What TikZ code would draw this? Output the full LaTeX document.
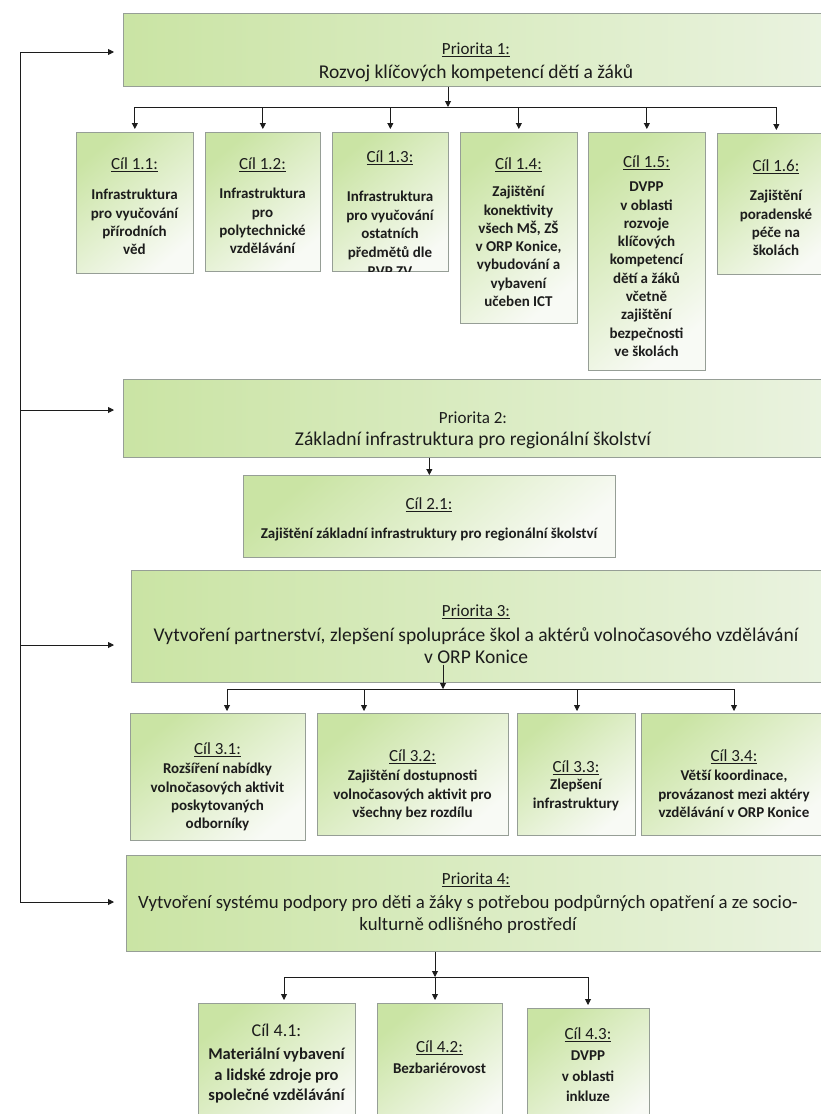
\documentclass[tikz,border=0pt]{standalone}
\usepackage{fontspec}
\setmainfont{Carlito}
\usetikzlibrary{arrows.meta}
\definecolor{gA}{RGB}{202,228,164}
\definecolor{gB}{RGB}{234,243,224}
\definecolor{gC}{RGB}{248,250,245}
\definecolor{bord}{RGB}{150,158,150}
\definecolor{ink}{RGB}{28,28,28}
\newcommand{\fs}{\rule{0pt}{12pt}}
\tikzset{
  pbox/.style={draw=bord, line width=0.7pt, left color=gA, right color=gB, inner sep=0pt, anchor=north west},
  cbox/.style={draw=bord, line width=0.7pt, top color=gA, bottom color=gC, shading angle=40, inner sep=0pt, anchor=north west},
  plab/.style={font=\fontsize{17}{20}\selectfont, text=ink, inner sep=0pt},
  ptit/.style={font=\fontsize{19.5}{22}\selectfont, text=ink, inner sep=0pt, align=center},
  clab/.style={font=\fontsize{17}{20}\selectfont, text=ink, inner sep=0pt},
  cbody/.style={font=\bfseries\fontsize{15}{18.3}\selectfont, text=ink, inner sep=0pt, align=center, anchor=north},
  cbodyw/.style={font=\bfseries\fontsize{15}{20.5}\selectfont, text=ink, inner sep=0pt, align=center, anchor=north},
  arr/.style={draw=ink, line width=0.9pt, -{Triangle[length=6pt,width=6pt]}},
  ln/.style={draw=ink, line width=0.9pt},
}
\begin{document}
\begin{tikzpicture}[x=1pt,y=-1pt]
\useasboundingbox (0,0) rectangle (821,1114);
% ---------- priority boxes
\node[pbox, minimum width=710pt, minimum height=73pt] (p1) at (123,13) {};
\node[pbox, minimum width=710pt, minimum height=78pt] (p2) at (123,379) {};
\node[pbox, minimum width=700pt, minimum height=112pt] (p3) at (131,570) {};
\node[pbox, minimum width=705pt, minimum height=96pt] (p4) at (126,855) {};
% ---------- goal boxes
\node[cbox, minimum width=117pt, minimum height=141pt] (c11) at (76,132) {};
\node[cbox, minimum width=115pt, minimum height=139pt] (c12) at (205,132) {};
\node[cbox, minimum width=116pt, minimum height=139pt] (c13) at (332,132) {};
\node[cbox, minimum width=117pt, minimum height=191pt] (c14) at (460,132) {};
\node[cbox, minimum width=117pt, minimum height=238pt] (c15) at (588,132) {};
\node[cbox, minimum width=118pt, minimum height=141pt] (c16) at (717,133) {};
\node[cbox, minimum width=372pt, minimum height=82pt] (c21) at (243,475) {};
\node[cbox, minimum width=175pt, minimum height=127pt] (c31) at (130,713) {};
\node[cbox, minimum width=191pt, minimum height=122pt] (c32) at (317,713) {};
\node[cbox, minimum width=118pt, minimum height=122pt] (c33) at (517,713) {};
\node[cbox, minimum width=186pt, minimum height=122pt] (c34) at (641,713) {};
\node[cbox, minimum width=157pt, minimum height=130pt] (c41) at (198,1003) {};
\node[cbox, minimum width=125pt, minimum height=130pt] (c42) at (377,1003) {};
\node[cbox, minimum width=122pt, minimum height=125pt] (c43) at (527,1008) {};
% ---------- priority texts
\node[plab] (p1l) at (476,50) {\underline{Priorita 1:}};
\node[ptit] (p1t) at (476,73) {Rozvoj klíčových kompetencí dětí a žáků};
\node[plab] (p2l) at (473,418) {Priorita 2:};
\node[ptit] (p2t) at (473,440) {Základní infrastruktura pro regionální školství};
\node[plab] (p3l) at (476,612) {\underline{Priorita 3:}};
\node[ptit] (p3t) at (476,646) {Vytvoření partnerství, zlepšení spolupráce škol a aktérů volnočasového vzdělávání\\v ORP Konice};
\node[plab] (p4l) at (476,880) {\underline{Priorita 4:}};
\node[ptit, font=\fontsize{18.8}{22}\selectfont] (p4t) at (468,914) {Vytvoření systému podpory pro děti a žáky s potřebou podpůrných opatření a ze socio-\\kulturně odlišného prostředí};
% ---------- goal texts, priority 1
\node[clab] (t11) at (134.5,165) {\underline{Cíl 1.1:}};
\node[cbody] (x11) at (134.5,187.5) {\fs Infrastruktura\\pro vyučování\\přírodních\\věd};
\node[clab] (t12) at (262.5,165) {\underline{Cíl 1.2:}};
\node[cbody] (x12) at (262.5,186.5) {\fs Infrastruktura\\pro\\polytechnické\\vzdělávání};
\node[clab] (t13) at (390,158) {\underline{Cíl 1.3:}};
\begin{scope}
\clip (c13.north west) rectangle (c13.south east);
\node[cbody, font=\bfseries\fontsize{15}{18.8}\selectfont] (x13) at (390,189) {\fs Infrastruktura\\pro vyučování\\ostatních\\předmětů dle\\RVP ZV};
\end{scope}
\node[clab] (t14) at (518.5,165) {\underline{Cíl 1.4:}};
\node[cbody] (x14) at (518.5,184.5) {\fs Zajištění\\konektivity\\všech MŠ, ZŠ\\v ORP Konice,\\vybudování a\\vybavení\\učeben ICT};
\node[clab] (t15) at (646.5,163) {\underline{Cíl 1.5:}};
\node[cbody] (x15) at (646.5,179.5) {\fs DVPP\\v oblasti\\rozvoje\\klíčových\\kompetencí\\dětí a žáků\\včetně\\zajištění\\bezpečnosti\\ve školách};
\node[clab] (t16) at (776,167) {\underline{Cíl 1.6:}};
\node[cbody] (x16) at (776,188.5) {\fs Zajištění\\poradenské\\péče na\\školách};
% ---------- priority 2
\node[clab] (t21) at (429,505) {\underline{Cíl 2.1:}};
\node[font=\bfseries\fontsize{15}{18}\selectfont, text=ink, inner sep=0pt] (x21) at (429,534) {Zajištění základní infrastruktury pro regionální školství};
% ---------- priority 3
\node[clab] (t31) at (217.5,750) {\underline{Cíl 3.1:}};
\node[cbody] (x31) at (217.5,761.5) {\fs Rozšíření nabídky\\volnočasových aktivit\\poskytovaných\\odborníky};
\node[clab] (t32) at (412.5,757) {\underline{Cíl 3.2:}};
\node[cbody] (x32) at (412.5,768.5) {\fs Zajištění dostupnosti\\volnočasových aktivit pro\\všechny bez rozdílu};
\node[clab] (t33) at (576,768) {\underline{Cíl 3.3:}};
\node[cbody] (x33) at (576,777.5) {\fs Zlepšení\\infrastruktury};
\node[clab] (t34) at (734,757) {\underline{Cíl 3.4:}};
\node[cbody] (x34) at (734,768.5) {\fs Větší koordinace,\\provázanost mezi aktéry\\vzdělávání v ORP Konice};
% ---------- priority 4
\node[font=\fontsize{18}{21}\selectfont, text=ink, inner sep=0pt] (t41) at (276.5,1030) {Cíl 4.1:};
\node[cbodyw, font=\bfseries\fontsize{16.5}{20.5}\selectfont] (x41) at (276.5,1047.5) {\fs Materiální vybavení\\a lidské zdroje pro\\společné vzdělávání};
\node[clab] (t42) at (439.5,1048) {\underline{Cíl 4.2:}};
\node[cbodyw] (x42) at (439.5,1061.5) {\fs Bezbariérovost};
\node[clab] (t43) at (588,1035) {\underline{Cíl 4.3:}};
\node[cbodyw] (x43) at (588,1048.5) {\fs DVPP\\v oblasti\\inkluze};
% ---------- left feedback line
\coordinate (l1) at (20,52);
\coordinate (l2) at (20,410);
\coordinate (l3) at (20,645);
\coordinate (l4) at (20,902);
\draw[ln] (l1) -- (l4);
\draw[arr, shorten >=9pt] (l1) -- (l1 -| p1.west);
\draw[arr, shorten >=9pt] (l2) -- (l2 -| p2.west);
\draw[arr, shorten >=17pt] (l3) -- (l3 -| p3.west);
\draw[arr, shorten >=12pt] (l4) -- (l4 -| p4.west);
% ---------- priority 1 branches
\coordinate (b1) at (448,107);
\draw[arr] (b1 |- p1.south) -- (b1);
\draw[ln] (b1 -| c11.north) -- (b1 -| c16.north);
\foreach \c in {c11,c12,c13,c14,c15,c16}
  \draw[arr, shorten >=3pt] (b1 -| \c.north) -- (\c.north);
% ---------- priority 2
\draw[arr] (c21.north |- p2.south) -- (c21.north);
% ---------- priority 3 branches
\coordinate (b3) at (443,689);
\coordinate (p3s) at ([yshift=18pt]p3.south);
\coordinate (d31) at (227,689);
\coordinate (d32) at (364,689);
\coordinate (d33) at (577,689);
\coordinate (d34) at (734,689);
\draw[arr] (b3 |- p3s) -- (b3);
\draw[ln] (d31) -- (d34);
\draw[arr, shorten >=2pt] (d31) -- (d31 |- c31.north);
\draw[arr, shorten >=2pt] (d32) -- (d32 |- c32.north);
\draw[arr, shorten >=2pt] (d33) -- (d33 |- c33.north);
\draw[arr, shorten >=2pt] (d34) -- (d34 |- c34.north);
% ---------- priority 4 branches
\coordinate (b4) at (435,977);
\coordinate (d41) at (284,977);
\coordinate (d43) at (588,977);
\draw[arr] (b4 |- p4.south) -- (b4);
\draw[ln] (d41) -- (d43);
\draw[arr, shorten >=3pt] (d41) -- (d41 |- c41.north);
\draw[arr, shorten >=3pt] (b4) -- (b4 |- c42.north);
\draw[arr, shorten >=3pt] (d43) -- (d43 |- c43.north);
\end{tikzpicture}
\end{document}
